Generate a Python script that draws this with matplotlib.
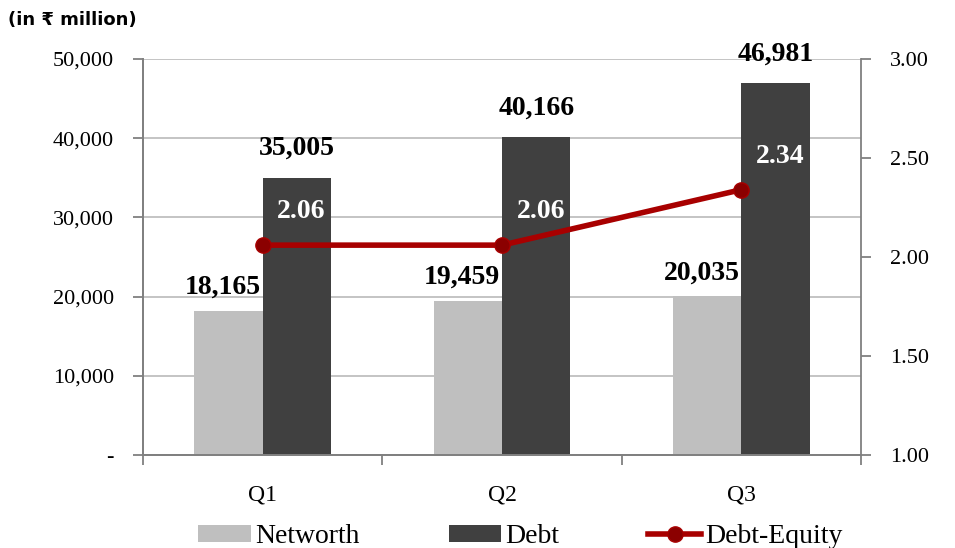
import numpy as np
import matplotlib.pyplot as plt
from matplotlib.ticker import FuncFormatter

quarters = ['Q1', 'Q2', 'Q3']
networth = [18165, 19459, 20035]
debt = [35005, 40166, 46981]
debt_equity = [2.06, 2.06, 2.34]

plt.rcParams['font.family'] = ['Liberation Serif', 'DejaVu Serif']

fig = plt.figure(figsize=(9.55, 5.48), dpi=100)
ax = fig.add_axes([0.1497, 0.1697, 0.7519, 0.7226])
ax2 = ax.twinx()

x = np.arange(len(quarters))
w = 0.286

# bars on the left axis
ax.bar(x - w / 2, networth, w, color='#BFBFBF', label='Networth', zorder=2)
ax.bar(x + w / 2, debt, w, color='#404040', label='Debt', zorder=2)

for xi, v in zip(x, networth):
    ax.annotate(f'{v:,}', (xi - w / 2, v), xytext=(-4, 8), textcoords='offset points',
                ha='center', va='bottom', fontsize=20, fontweight='bold')
for xi, v in zip(x, debt):
    ax.annotate(f'{v:,}', (xi + w / 2, v), xytext=(0, 12), textcoords='offset points',
                ha='center', va='bottom', fontsize=20, fontweight='bold')

ax.set_ylim(0, 50000)
ax.set_xlim(-0.5, 2.5)
ax.set_yticks(np.arange(0, 50001, 10000))
ax.yaxis.set_major_formatter(FuncFormatter(lambda v, p: '-' if v == 0 else f'{int(v):,}'))
ax.grid(axis='y', color='#BFBFBF', linewidth=1.3, zorder=0)
ax.set_axisbelow(True)

# quarter labels sit between category boundary ticks
ax.set_xticks(x)
ax.set_xticklabels(quarters)
ax.set_xticks([-0.5, 0.5, 1.5, 2.5], minor=True)
ax.tick_params(axis='x', which='major', length=0, pad=21, labelsize=17)
ax.tick_params(axis='x', which='minor', length=7, color='#808080', width=1.3)
ax.tick_params(axis='y', length=7, color='#808080', width=1.3, labelsize=16, pad=14)

# debt-equity ratio on the right axis
ax2.plot(x, debt_equity, color='#A80000', linewidth=4, marker='o', markersize=11,
         markerfacecolor='#8B0000', markeredgecolor='#A80000', label='Debt-Equity', zorder=3)
for xi, v in zip(x, debt_equity):
    ax2.annotate(f'{v:.2f}', (xi, v), xytext=(28, 15), textcoords='offset points',
                 ha='center', va='bottom', fontsize=20, fontweight='bold', color='white')
ax2.set_ylim(1.0, 3.0)
ax2.set_yticks([1.0, 1.5, 2.0, 2.5, 3.0])
ax2.yaxis.set_major_formatter(FuncFormatter(lambda v, p: f'{v:.2f}'))
ax2.tick_params(axis='y', length=7, color='#808080', width=1.3, labelsize=16, pad=14)

for a in (ax, ax2):
    a.spines['top'].set_visible(False)
    for s in ('left', 'right', 'bottom'):
        a.spines[s].set_color('#808080')
        a.spines[s].set_linewidth(1.3)
ax.spines['right'].set_visible(False)

fig.text(0.008, 0.963, '(in \u20b9 million)', fontsize=13, fontweight='bold',
         family=['DejaVu Sans'], va='center')

h1, l1 = ax.get_legend_handles_labels()
h2, l2 = ax2.get_legend_handles_labels()
fig.legend(h1 + h2, l1 + l2, loc='lower center', bbox_to_anchor=(0.545, -0.048), ncol=3,
           frameon=False, fontsize=20, handlelength=1.9, handleheight=0.6,
           handletextpad=0.15, columnspacing=3.2)

fig.savefig('out.png', dpi=100)
